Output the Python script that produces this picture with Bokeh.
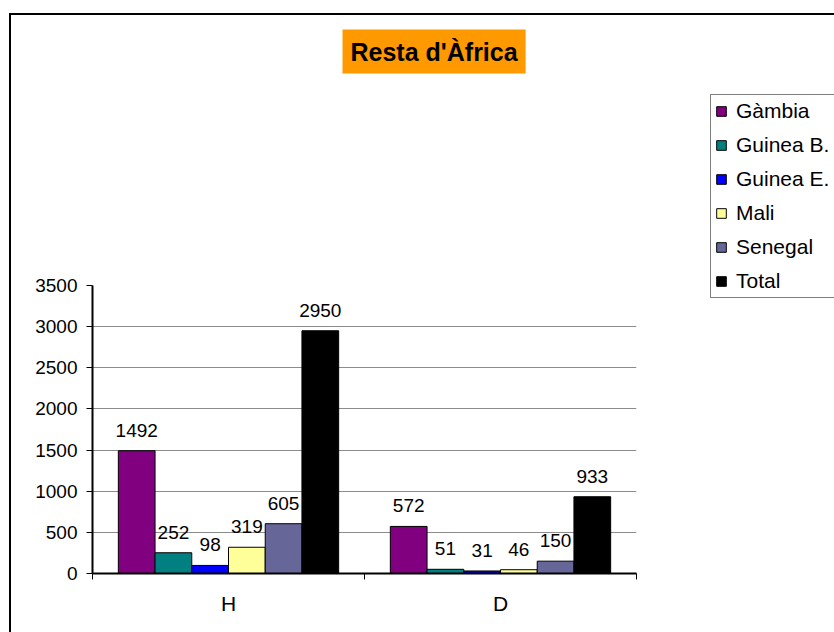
from bokeh.plotting import figure
from bokeh.models import (ColumnDataSource, FixedTicker, LabelSet, Legend, LegendItem, Grid,
                          Range1d, Title)
from bokeh.core.properties import value
from bokeh.transform import dodge
from bokeh.embed import file_html
from bokeh.resources import INLINE

# ---- data ----
categories = ["H", "D"]
series = ["Gàmbia", "Guinea B.", "Guinea E.", "Mali", "Senegal", "Total"]
gambia = [1492, 572]
guinea_b = [252, 51]
guinea_e = [98, 31]
mali = [319, 46]
senegal = [605, 150]
total = [2950, 933]
colors = ["#800080", "#008080", "#0000FF", "#FFFF99", "#666699", "#000000"]
y_ticks = [0, 500, 1000, 1500, 2000, 2500, 3000, 3500]
title_text = "Resta d'Àfrica"

FONT = "Liberation Sans"
values = [gambia, guinea_b, guinea_e, mali, senegal, total]
keys = ["s%d" % i for i in range(len(series))]

data = {"x": [i + 0.5 for i in range(len(categories))]}
for k, v in zip(keys, values):
    data[k] = v
    data[k + "_lbl"] = [str(n) for n in v]
src = ColumnDataSource(data)

p = figure(frame_width=544, frame_height=288,
           min_border_left=92, min_border_right=198,
           min_border_top=285, min_border_bottom=59,
           x_range=Range1d(0, len(categories)), y_range=Range1d(0, y_ticks[-1]),
           output_backend="svg", toolbar_location=None, tools="", title=None)
p.outline_line_color = None
p.background_fill_color = "white"
p.border_fill_color = None
p.styles = {
    "background": "linear-gradient(#000,#000) 9px 13px / 2px 100% no-repeat, "
                  "linear-gradient(#000,#000) 9px 13px / 100% 2px no-repeat, white"
}

bar_w = 0.135
n = len(series)
items = []
for i, (k, name, col) in enumerate(zip(keys, series, colors)):
    off = (i - (n - 1) / 2) * bar_w
    r = p.vbar(x=dodge("x", off, range=p.x_range), top=k, width=bar_w, source=src,
               fill_color=col, line_color="black", line_width=1)
    items.append(LegendItem(label=name, renderers=[r]))
    lbl = LabelSet(x=dodge("x", off, range=p.x_range), y=k, text=k + "_lbl", source=src,
                   text_align="center", text_baseline="alphabetic", y_offset=14,
                   text_font=value(FONT), text_font_size=value("19px"), text_color="black")
    p.add_layout(lbl)

# grid
p.xgrid.visible = False
p.ygrid.ticker = FixedTicker(ticks=y_ticks[1:-1])
p.ygrid.grid_line_color = "#8c8c8c"
p.ygrid.grid_line_width = 1
top_grid = Grid(dimension=1, ticker=FixedTicker(ticks=[y_ticks[-1]]),
                grid_line_color="#e8e8e8", grid_line_width=1)
p.add_layout(top_grid)

# y axis
ya = p.yaxis[0]
ya.ticker = FixedTicker(ticks=y_ticks)
ya.minor_tick_line_color = None
ya.major_tick_out = 6
ya.major_tick_in = 0
ya.major_label_standoff = 9
ya.major_label_text_font = FONT
ya.major_label_text_font_size = "19px"
ya.major_label_text_color = "black"
ya.axis_line_width = 2
ya.axis_line_color = "black"
ya.major_tick_line_color = "black"

# x axis
xa = p.xaxis[0]
xa.ticker = FixedTicker(ticks=[i + 0.5 for i in range(len(categories))],
                        minor_ticks=list(range(len(categories) + 1)))
xa.major_label_overrides = {i + 0.5: c for i, c in enumerate(categories)}
xa.major_tick_line_color = None
xa.major_tick_out = 0
xa.major_tick_in = 0
xa.minor_tick_out = 6
xa.minor_tick_in = 0
xa.minor_tick_line_color = "black"
xa.major_label_standoff = 12
xa.major_label_text_font = FONT
xa.major_label_text_font_size = "21px"
xa.major_label_text_color = "black"
xa.axis_line_width = 2
xa.axis_line_color = "black"

# legend (right panel)
legend = Legend(items=items, location=(74, 275),
                label_text_font=FONT, label_text_font_size="21px", label_text_color="black",
                glyph_width=12, glyph_height=12, label_height=20, label_width=110, spacing=10,
                padding=4, margin=0, label_standoff=9,
                border_line_color="black", border_line_width=1.5,
                background_fill_color="white", background_fill_alpha=1.0)
p.add_layout(legend, "right")

# title: a white spacer next to the frame, then the real title above it
spacer = Title(text=".", text_font_size="1px", text_color="white", standoff=209)
p.add_layout(spacer, "above")
main_title = Title(text=title_text, text_font=FONT, text_font_style="bold",
                   text_font_size="25px", text_color="black", align="left",
                   vertical_align="bottom", offset=250, standoff=0,
                   background_fill_color="#FF9900", padding=8)
p.add_layout(main_title, "above")

open("out.html", "w").write(file_html(p, INLINE))
